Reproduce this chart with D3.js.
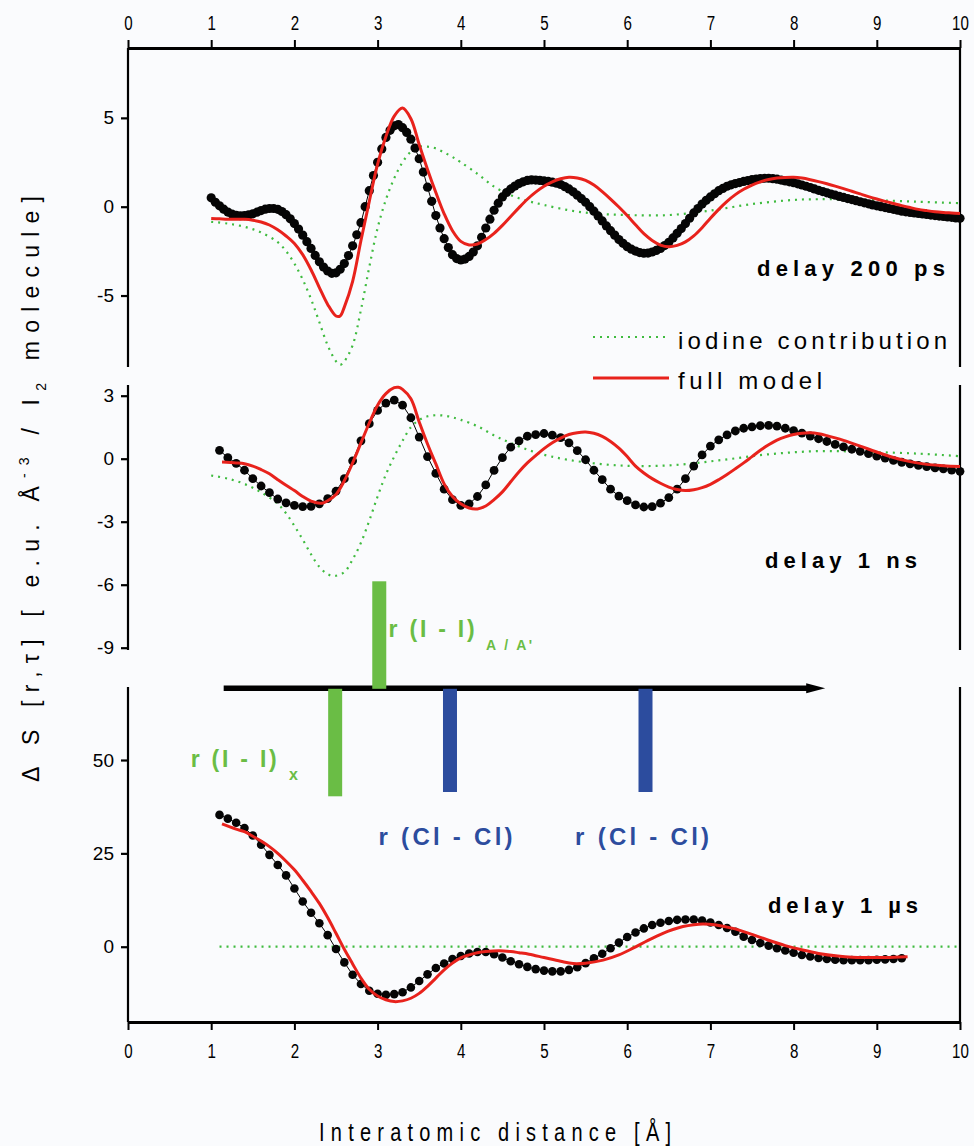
<!DOCTYPE html>
<html><head><meta charset="utf-8">
<script src="https://cdn.jsdelivr.net/npm/d3@7"></script>
<style>
html,body{margin:0;padding:0;background:#fafbfd;}
svg{display:block;}
</style></head><body>
<svg id="c" width="974" height="1146"></svg>
<script>
// ---------- DATA ----------
const xTicks = [0,1,2,3,4,5,6,7,8,9,10];
const yTicks200ps = [-5,0,5];
const yTicks1ns = [-9,-6,-3,0,3];
const yTicks1us = [0,25,50];
const panelLabels = ["delay 200 ps","delay 1 ns","delay 1 µs"];
const legendLabels = ["iodine contribution","full model"];

// experimental points, 200 ps (r from 1.00 step 0.05)
const exp200ps = [0.50,0.25,0.05,-0.14,-0.30,-0.41,-0.48,-0.51,-0.50,-0.46,-0.40,-0.31,-0.22,-0.14,-0.10,-0.10,-0.15,-0.27,-0.45,-0.68,
-0.95,-1.26,-1.60,-1.97,-2.35,-2.74,-3.10,-3.40,-3.62,-3.75,-3.72,-3.52,-3.20,-2.75,-2.20,-1.58,-0.90,0.00,0.90,1.75,
2.50,3.25,3.90,4.30,4.55,4.62,4.45,4.18,3.80,3.30,2.70,1.95,1.10,0.30,-0.50,-1.20,-1.80,-2.30,-2.70,-2.92,
-3.00,-2.95,-2.80,-2.55,-2.20,-1.72,-1.20,-0.70,-0.20,0.20,0.55,0.80,1.00,1.16,1.30,1.40,1.48,1.51,1.50,1.48,
1.45,1.42,1.38,1.32,1.25,1.13,1.00,0.84,0.65,0.45,0.25,0.00,-0.25,-0.52,-0.80,-1.08,-1.35,-1.60,-1.85,-2.06,
-2.25,-2.39,-2.50,-2.58,-2.62,-2.61,-2.55,-2.46,-2.35,-2.19,-2.00,-1.76,-1.50,-1.23,-0.95,-0.65,-0.35,-0.10,0.15,0.36,
0.55,0.73,0.90,1.03,1.15,1.23,1.30,1.36,1.42,1.47,1.52,1.55,1.58,1.60,1.60,1.58,1.55,1.50,1.45,1.40,
1.35,1.29,1.22,1.15,1.08,1.00,0.92,0.85,0.78,0.71,0.65,0.58,0.52,0.46,0.40,0.34,0.28,0.22,0.16,0.10,
0.05,0.00,-0.05,-0.10,-0.15,-0.20,-0.25,-0.29,-0.32,-0.35,-0.38,-0.41,-0.44,-0.47,-0.50,-0.53,-0.55,-0.58,-0.60,-0.63,-0.65];
const r200ps = d3.range(exp200ps.length).map(i => 1 + i*0.05);

// experimental points, 1 ns (r from 1.1 step 0.1)
const exp1ns = [0.40,0.05,-0.22,-0.55,-0.95,-1.30,-1.62,-1.92,-2.10,-2.22,-2.28,-2.27,-2.15,-1.90,-1.55,-0.95,-0.10,0.85,1.67,2.30,
2.65,2.79,2.55,1.95,1.03,0.10,-0.70,-1.45,-1.95,-2.22,-2.15,-1.80,-1.25,-0.56,0.05,0.55,0.85,1.07,1.15,1.20,
1.12,1.00,0.75,0.38,-0.05,-0.55,-1.00,-1.45,-1.78,-2.00,-2.20,-2.30,-2.28,-2.12,-1.85,-1.45,-0.95,-0.35,0.18,0.60,
0.90,1.13,1.32,1.45,1.52,1.57,1.59,1.55,1.45,1.34,1.22,1.08,0.95,0.82,0.68,0.56,0.45,0.35,0.24,0.12,
0.03,-0.08,-0.17,-0.25,-0.32,-0.38,-0.44,-0.48,-0.54,-0.60];
const r1ns = d3.range(exp1ns.length).map(i => 1.1 + i*0.1);

// experimental points, 1 µs (r from 1.1 step 0.1)
const exp1us = [35.3,34.3,33.2,31.8,29.8,27.3,24.6,21.9,19.1,15.6,12.1,9.1,6.3,3.1,-0.6,-4.2,-7.5,-10.0,-11.8,-12.6,
-12.9,-12.7,-12.2,-10.9,-9.2,-7.4,-5.7,-4.5,-3.3,-2.5,-1.8,-1.4,-1.4,-2.0,-2.9,-3.9,-4.7,-5.4,-6.0,-6.4,
-6.6,-6.6,-6.2,-5.5,-4.4,-3.1,-1.9,-0.4,1.1,2.6,3.8,4.9,5.8,6.4,6.9,7.2,7.3,7.3,7.0,6.5,
5.8,5.0,4.0,2.7,1.8,1.0,0.3,-0.4,-1.0,-1.6,-2.2,-2.6,-3.0,-3.3,-3.5,-3.6,-3.6,-3.6,-3.6,-3.5,-3.4,-3.3,-3.1];
const r1us = d3.range(exp1us.length).map(i => 1.1 + i*0.1);

// full model [r, value]
const model200ps = [[1.0,-0.66],[1.1,-0.68],[1.2,-0.70],[1.3,-0.70],[1.4,-0.71],[1.5,-0.76],[1.6,-0.86],[1.7,-1.03],[1.8,-1.30],[1.9,-1.65],
[2.0,-2.07],[2.1,-2.70],[2.2,-3.55],[2.3,-4.55],[2.4,-5.50],[2.5,-6.15],[2.55,-6.15],[2.6,-5.65],[2.7,-4.20],[2.8,-1.90],[2.9,0.30],
[3.0,2.40],[3.1,3.95],[3.2,5.10],[3.3,5.55],[3.4,4.95],[3.5,3.50],[3.6,2.10],[3.7,0.80],[3.8,-0.40],[3.9,-1.35],
[4.0,-1.95],[4.1,-2.15],[4.2,-2.10],[4.3,-1.85],[4.4,-1.50],[4.5,-1.05],[4.6,-0.55],[4.7,-0.05],[4.8,0.42],[4.9,0.82],
[5.0,1.15],[5.1,1.40],[5.2,1.57],[5.3,1.66],[5.4,1.62],[5.5,1.48],[5.6,1.22],[5.7,0.85],[5.8,0.43],[5.9,-0.02],
[6.0,-0.50],[6.1,-1.02],[6.2,-1.52],[6.3,-1.90],[6.4,-2.16],[6.5,-2.26],[6.6,-2.18],[6.7,-1.98],[6.8,-1.64],[6.9,-1.18],
[7.0,-0.65],[7.1,-0.15],[7.2,0.30],[7.3,0.68],[7.4,0.98],[7.5,1.22],[7.6,1.40],[7.7,1.53],[7.8,1.61],[7.9,1.65],
[8.0,1.66],[8.1,1.61],[8.2,1.52],[8.3,1.41],[8.4,1.29],[8.5,1.16],[8.6,1.02],[8.7,0.87],[8.8,0.72],[8.9,0.57],
[9.0,0.43],[9.1,0.30],[9.2,0.18],[9.3,0.06],[9.4,-0.05],[9.5,-0.15],[9.6,-0.22],[9.7,-0.28],[9.8,-0.32],[9.9,-0.35],[10.0,-0.38]];
const model1ns = [[1.13,-0.16],[1.3,-0.20],[1.4,-0.24],[1.5,-0.35],[1.6,-0.52],[1.7,-0.72],[1.8,-1.00],[1.9,-1.27],[2.0,-1.52],[2.1,-1.80],
[2.2,-2.02],[2.33,-2.12],[2.4,-2.00],[2.5,-1.70],[2.6,-1.05],[2.7,-0.20],[2.8,0.75],[2.9,1.70],[3.0,2.55],[3.1,3.10],
[3.2,3.38],[3.25,3.40],[3.3,3.30],[3.4,2.85],[3.5,1.75],[3.6,0.70],[3.7,-0.25],[3.8,-1.20],[3.9,-1.80],[4.0,-2.15],
[4.1,-2.35],[4.2,-2.39],[4.3,-2.25],[4.4,-1.95],[4.5,-1.58],[4.6,-1.10],[4.7,-0.62],[4.8,-0.20],[4.9,0.15],[5.0,0.48],
[5.1,0.76],[5.2,0.98],[5.3,1.15],[5.4,1.24],[5.5,1.27],[5.6,1.21],[5.7,1.06],[5.8,0.82],[5.9,0.50],[6.0,0.10],
[6.1,-0.35],[6.2,-0.68],[6.3,-0.95],[6.4,-1.17],[6.5,-1.35],[6.6,-1.47],[6.7,-1.52],[6.8,-1.48],[6.9,-1.38],[7.0,-1.22],
[7.1,-1.00],[7.2,-0.75],[7.3,-0.48],[7.4,-0.20],[7.5,0.10],[7.6,0.40],[7.7,0.66],[7.8,0.88],[7.9,1.04],[8.0,1.15],
[8.1,1.21],[8.2,1.23],[8.3,1.19],[8.4,1.10],[8.5,0.99],[8.6,0.87],[8.8,0.60],[9.0,0.32],[9.2,0.06],[9.4,-0.14],
[9.6,-0.27],[9.8,-0.33],[10.0,-0.37]];
const model1us = [[1.13,32.9],[1.3,31.5],[1.4,30.8],[1.5,29.6],[1.6,28.3],[1.7,26.8],[1.8,25.0],[1.9,22.9],[2.0,20.6],[2.1,17.8],
[2.2,14.8],[2.3,11.6],[2.4,7.8],[2.5,3.6],[2.6,-0.7],[2.7,-4.6],[2.8,-8.4],[2.9,-11.4],[3.0,-13.2],[3.1,-14.2],
[3.2,-14.7],[3.3,-14.5],[3.4,-13.8],[3.5,-12.5],[3.6,-10.6],[3.7,-8.4],[3.8,-6.2],[3.9,-4.4],[4.0,-3.0],[4.1,-2.2],
[4.2,-1.6],[4.3,-1.3],[4.46,-1.1],[4.6,-1.3],[4.7,-1.6],[4.82,-2.0],[5.0,-2.9],[5.2,-3.9],[5.35,-4.5],[5.5,-4.4],
[5.71,-3.6],[5.9,-2.2],[6.07,-0.4],[6.25,1.7],[6.43,3.6],[6.55,4.6],[6.67,5.4],[6.8,5.9],[6.91,6.1],[7.05,5.9],
[7.27,4.9],[7.5,3.3],[7.69,1.8],[7.9,0.3],[8.11,-0.9],[8.3,-1.8],[8.53,-2.5],[8.7,-2.8],[8.89,-2.9],[9.1,-2.9],[9.37,-2.7]];

// iodine contribution [r, value]
const iodine200ps = [[1.0,-0.85],[1.2,-0.95],[1.4,-1.13],[1.6,-1.45],[1.8,-2.0],[1.9,-2.5],[2.0,-3.2],[2.1,-4.1],[2.2,-5.2],[2.3,-6.5],
[2.4,-7.8],[2.5,-8.7],[2.55,-8.9],[2.6,-8.7],[2.7,-7.8],[2.8,-5.8],[2.9,-3.4],[3.0,-1.2],[3.1,0.4],[3.2,1.6],
[3.3,2.5],[3.4,3.1],[3.5,3.38],[3.6,3.38],[3.7,3.28],[3.8,3.05],[3.9,2.8],[4.0,2.5],[4.2,1.85],[4.4,1.13],
[4.6,0.65],[4.8,0.33],[5.0,0.1],[5.3,-0.2],[5.6,-0.38],[6.0,-0.47],[6.5,-0.47],[7.0,-0.22],[7.5,0.15],[8.0,0.38],
[8.3,0.42],[8.9,0.38],[9.5,0.28],[10.0,0.2]];
const iodine1ns = [[1.0,-0.8],[1.2,-0.95],[1.4,-1.2],[1.6,-1.6],[1.8,-2.15],[1.9,-2.6],[2.0,-3.2],[2.1,-3.85],[2.2,-4.55],[2.3,-5.15],
[2.4,-5.5],[2.48,-5.58],[2.6,-5.4],[2.7,-4.8],[2.8,-4.0],[2.9,-2.95],[3.0,-1.8],[3.1,-0.75],[3.2,0.1],[3.3,0.85],
[3.4,1.5],[3.5,1.85],[3.6,2.02],[3.7,2.07],[3.8,2.05],[3.9,1.97],[4.0,1.85],[4.2,1.55],[4.4,1.11],[4.6,0.75],
[4.9,0.3],[5.3,-0.06],[5.9,-0.32],[6.5,-0.32],[7.1,-0.08],[7.7,0.21],[8.3,0.36],[8.9,0.32],[9.5,0.24],[10.0,0.12]];
const iodine1us = [[1.1,0],[10.0,0]];

// distance sticks
const stickR = [3.02, 2.49, 3.87, 6.22];
const stickH = [1.0, -1.0, -0.96, -0.96];
const stickKind = ["I","I","Cl","Cl"];
const arrowR = [1.15, 8.38];

// ---------- DRAW ----------
const svg = d3.select("#c");
const W = 974, H = 1146;
svg.append("rect").attr("width",W).attr("height",H).attr("fill","#fafbfd");

const x = d3.scaleLinear().domain([0,10]).range([128,960]);
const panels = [
  {y: d3.scaleLinear().domain([-9,9]).range([366.6,46.8]), top:48, bot:367, ticks:yTicks200ps,
   exp:exp200ps, r:r200ps, model:model200ps, iod:iodine200ps, rad:4.6},
  {y: d3.scaleLinear().domain([-9,3.5]).range([647.7,385.2]), top:385, bot:650, ticks:yTicks1ns,
   exp:exp1ns, r:r1ns, model:model1ns, iod:iodine1ns, rad:4.4},
  {y: d3.scaleLinear().domain([-20,69.5]).range([1021.4,687.2]), top:687, bot:1022, ticks:yTicks1us,
   exp:exp1us, r:r1us, model:model1us, iod:iodine1us, rad:4.3}
];

const GREEN_DOT = "#3fbb3f", RED = "#e8221c", GREEN = "#6abd45", BLUE = "#2c4c9e";
const sans = "'Liberation Sans', Arial, Helvetica, sans-serif";

panels.forEach(p => {
  const ax = svg.append("g").attr("transform","translate(128,0)")
    .call(d3.axisLeft(p.y).tickValues(p.ticks).tickSize(7).tickSizeOuter(0).tickPadding(7).tickFormat(d => String(d)));
  ax.select(".domain").remove();
  ax.selectAll(".tick line").attr("stroke","#000").attr("stroke-width",2.2);
  ax.selectAll(".tick text").attr("font-family",sans).attr("font-size",19).attr("fill","#000");
  svg.append("line").attr("x1",128).attr("x2",128).attr("y1",p.top).attr("y2",p.bot).attr("stroke","#000").attr("stroke-width",2.2);
  svg.append("line").attr("x1",x(10)).attr("x2",x(10)).attr("y1",p.top).attr("y2",p.bot).attr("stroke","#000").attr("stroke-width",2.2);

  const line = d3.line().x(d=>x(d[0])).y(d=>p.y(d[1])).curve(d3.curveCatmullRom);
  svg.append("path").datum(p.iod).attr("d",line).attr("fill","none")
    .attr("stroke",GREEN_DOT).attr("stroke-width",2.2).attr("stroke-dasharray","2,5");
  const pts = p.exp.map((v,i)=>[p.r[i],v]);
  svg.append("path").datum(pts).attr("d",d3.line().x(d=>x(d[0])).y(d=>p.y(d[1]))).attr("fill","none")
    .attr("stroke","#000").attr("stroke-width",1);
  svg.append("g").selectAll("circle").data(pts).join("circle")
    .attr("cx",d=>x(d[0])).attr("cy",d=>p.y(d[1])).attr("r",p.rad).attr("fill","#050505");
  svg.append("path").datum(p.model).attr("d",line).attr("fill","none")
    .attr("stroke",RED).attr("stroke-width",3);
});

// top & bottom axes
const topAx = svg.append("g").attr("transform","translate(0,48)")
  .call(d3.axisTop(x).tickValues(xTicks).tickSize(8).tickSizeOuter(0).tickPadding(10));
const botAx = svg.append("g").attr("transform","translate(0,1022)")
  .call(d3.axisBottom(x).tickValues(xTicks).tickSize(8).tickSizeOuter(0).tickPadding(13));
[topAx, botAx].forEach(a => {
  a.select(".domain").attr("stroke","#000").attr("stroke-width",3);
  a.selectAll(".tick line").attr("stroke","#000").attr("stroke-width",2);
  a.selectAll(".tick text").attr("font-family",sans).attr("font-size",21).attr("fill","#000")
    .attr("transform","scale(0.72,1)");
});

// sticks & arrow
const yArrow = 688.3;
const ys = d3.scaleLinear().domain([-1,1]).range([yArrow+108, yArrow-107]);
svg.append("line").attr("x1",x(arrowR[0])).attr("x2",x(arrowR[1])-14).attr("y1",yArrow).attr("y2",yArrow)
  .attr("stroke","#000").attr("stroke-width",5.5);
svg.append("path").attr("d",`M${x(arrowR[1])},${yArrow} L${x(arrowR[1])-19},${yArrow-5} L${x(arrowR[1])-19},${yArrow+5} Z`).attr("fill","#000");
svg.append("g").selectAll("rect").data(stickR.map((r,i)=>({r,h:stickH[i],k:stickKind[i]}))).join("rect")
  .attr("x",d=>x(d.r)-7).attr("width",14)
  .attr("y",d=>Math.min(ys(d.h),ys(0))).attr("height",d=>Math.abs(ys(d.h)-ys(0)))
  .attr("fill",d=>d.k==="I"?GREEN:BLUE);

function txt(s, xx, yy, size, col, weight, len, anchor){
  const t = svg.append("text").attr("x",xx).attr("y",yy).attr("font-family",sans).attr("font-size",size)
    .attr("fill",col).attr("font-weight",weight||"normal").text(s);
  if(len){ t.attr("textLength",len).attr("lengthAdjust","spacing"); }
  if(anchor) t.attr("text-anchor",anchor);
  return t;
}
// stick labels
txt("r (I - I)", 388.6, 637, 23, GREEN, "bold", 86);
txt("A / A'", 486, 650, 14, GREEN, "bold", 46);
txt("r (I - I)", 190.7, 767, 23, GREEN, "bold", 86);
txt("x", 289, 780, 16, GREEN, "bold");
txt("r (Cl - Cl)", x(stickR[2])-71.4, 845, 24, BLUE, "bold", 134);
txt("r (Cl - Cl)", x(stickR[3])-70.4, 845, 24, BLUE, "bold", 134);

// panel labels
txt(panelLabels[0], 757, 276, 22, "#000", "bold", 188);
txt(panelLabels[1], 765, 568, 22, "#000", "bold", 152);
txt(panelLabels[2], 768, 913, 22, "#000", "bold", 150);

// legend
svg.append("line").attr("x1",593).attr("x2",665).attr("y1",337).attr("y2",337)
  .attr("stroke",GREEN_DOT).attr("stroke-width",2.2).attr("stroke-dasharray","2,5");
svg.append("line").attr("x1",593).attr("x2",669).attr("y1",378).attr("y2",378)
  .attr("stroke",RED).attr("stroke-width",3);
txt(legendLabels[0], 678, 349, 24, "#000", "normal", 269);
txt(legendLabels[1], 678, 389, 24, "#000", "normal", 144);

// x axis title
svg.append("text").attr("transform","translate(495,1141) scale(0.8,1)").attr("text-anchor","middle")
  .attr("font-family",sans).attr("font-size",25).attr("fill","#000")
  .attr("textLength",440).attr("lengthAdjust","spacing").text("Interatomic distance [Å]");

// y axis title
const yt = svg.append("text").attr("transform","translate(39,489) rotate(-90)").attr("text-anchor","middle")
  .attr("font-family",sans).attr("font-size",23).attr("fill","#000");
yt.append("tspan").text("Δ S [r,τ] [ e.u. Å");
yt.append("tspan").attr("font-size",14).attr("dy",-10).text("-3");
yt.append("tspan").attr("dy",10).text(" / I");
yt.append("tspan").attr("font-size",14).attr("dy",7).text("2");
yt.append("tspan").attr("dy",-7).text(" molecule]");
yt.attr("textLength",586).attr("lengthAdjust","spacing");
</script></body></html>
